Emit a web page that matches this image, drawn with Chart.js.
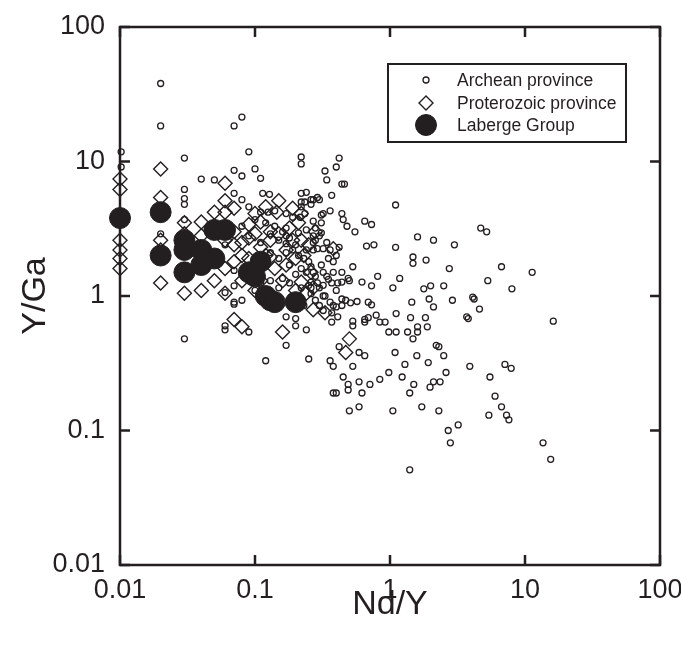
<!DOCTYPE html>
<html>
<head>
<meta charset="utf-8">
<script src="https://cdn.jsdelivr.net/npm/chart.js@4.4.1/dist/chart.umd.min.js"></script>
<style>
  html, body { margin: 0; padding: 0; background: #fff; }
  canvas { display: block; }
</style>
</head>
<body>
<canvas id="chart" width="681" height="645"></canvas>
<script>
// tick values on both log axes
const xTickValues = [0.01, 0.1, 1, 10, 100];
const yTickValues = [0.01, 0.1, 1, 10, 100];
const seriesNames = ["Archean province", "Proterozoic province", "Laberge Group"];

// [Nd/Y, Y/Ga]
const archeanPoints = [
  [0.0102,11.8],[0.0102,9.1],[0.02,38],[0.02,18.4],[0.02,2.9],
  [0.03,10.6],[0.03,6.2],[0.03,5.3],[0.03,4.8],[0.03,3.7],[0.03,0.48],
  [0.04,7.4],[0.05,7.3],[0.07,18.4],[0.08,21.4],[0.07,8.6],[0.08,7.8],[0.07,5.8],[0.08,5.2],
  [0.09,11.8],[0.09,4.6],[0.1,8.8],[0.11,7.5],[0.11,4.2],[0.114,5.8],[0.128,5.7],[0.125,4.2],[0.14,4.3],
  [0.17,4.1],[0.19,3.85],[0.216,3.85],[0.17,3.2],[0.17,2.8],[0.21,2.95],[0.17,2.45],
  [0.22,10.8],[0.22,9.6],[0.22,5.8],[0.22,5.0],[0.234,5.0],[0.22,4.6],[0.234,4.1],[0.24,5.9],
  [0.26,5.2],[0.26,4.8],[0.27,5.2],[0.29,5.4],[0.30,5.2],[0.31,4.0],[0.32,4.1],[0.36,4.3],
  [0.42,10.6],[0.40,9.1],[0.33,8.5],[0.34,7.3],[0.44,6.8],[0.46,6.8],[0.37,5.6],
  [0.44,4.1],[0.45,3.7],[0.48,3.3],[0.55,3.0],[0.65,3.6],[0.73,3.4],
  [1.1,4.75],[0.67,2.35],[0.76,2.4],[1.1,2.3],[0.31,3.5],[0.28,3.2],[0.31,2.95],[0.27,2.8],
  [0.27,2.5],[0.27,2.2],[0.29,2.25],[0.32,2.25],[0.38,1.8],[0.53,1.65],
  [1.6,2.75],[2.1,2.6],[3.0,2.4],[4.7,3.2],[5.2,3.0],
  [1.48,1.95],[1.48,1.75],[1.85,1.85],[2.75,1.6],[6.7,1.65],[11.3,1.5],
  [0.27,1.5],[0.32,1.5],[0.38,1.5],[0.44,1.5],[0.49,1.35],
  [0.26,1.27],[0.26,1.15],[0.29,1.25],[0.32,1.2],[0.35,1.33],[0.41,1.25],[0.44,1.27],[0.50,1.3],
  [0.62,1.27],[0.73,1.19],[0.81,1.4],[1.05,1.15],[1.18,1.35],
  [0.26,1.04],[0.28,0.93],[0.32,1.0],[0.30,0.85],
  [0.38,0.85],[0.44,0.85],[0.47,0.93],[0.51,0.89],[0.57,0.91],[0.69,0.9],[0.73,0.86],
  [0.37,0.75],[0.41,0.70],[0.37,0.64],[0.53,0.65],[0.53,0.60],
  [0.65,0.67],[0.65,0.64],[0.69,0.69],[0.79,0.72],[0.84,0.64],[0.92,0.64],[1.11,0.74],
  [0.98,0.54],[1.11,0.54],[1.35,0.54],[0.42,0.42],[0.59,0.38],[0.65,0.36],[0.36,0.33],[0.38,0.30],[0.53,0.30],
  [0.45,0.25],[0.49,0.22],[0.59,0.23],[0.84,0.24],[0.98,0.27],[1.23,0.25],[1.29,0.31],[1.09,0.38],
  [1.78,1.13],[2.0,1.19],[2.5,1.19],[5.3,1.3],[8.0,1.13],
  [1.45,0.9],[1.95,0.95],[2.1,0.83],[2.9,0.93],[4.1,0.98],[4.2,0.95],[4.6,0.8],[16.2,0.65],
  [1.42,0.69],[1.83,0.69],[1.6,0.59],[1.89,0.59],[1.6,0.54],[1.48,0.48],[3.7,0.7],[3.8,0.68],
  [2.2,0.43],[2.3,0.42],[2.5,0.36],[1.58,0.36],[1.92,0.32],[2.6,0.27],[3.9,0.30],[7.1,0.31],[7.9,0.29],[5.5,0.25],
  [0.49,0.20],[0.38,0.19],[0.40,0.19],[0.50,0.14],[0.59,0.15],[0.62,0.19],[0.71,0.22],
  [1.05,0.14],[1.50,0.22],[1.40,0.19],[1.72,0.15],[1.98,0.21],[2.1,0.23],[2.35,0.23],[2.3,0.14],
  [6.0,0.18],[5.4,0.13],[6.7,0.15],[7.3,0.13],[7.6,0.12],[2.7,0.10],[3.2,0.11],[2.8,0.081],[13.6,0.081],[15.5,0.061],[1.40,0.051],
  [0.06,0.6],[0.06,0.56],[0.07,1.19],[0.06,1.06],[0.07,0.9],[0.07,0.87],[0.08,0.93],[0.09,0.54],
  [0.12,0.33],[0.17,0.70],[0.17,0.43],[0.2,0.68],[0.2,0.6],[0.24,0.56],[0.25,0.34],
  [0.12,3.5],[0.14,3.3],[0.13,2.9],[0.15,2.6],[0.16,3.0],[0.18,2.7],[0.2,2.4],[0.19,2.2],[0.21,2.0],
  [0.23,1.9],[0.24,2.2],[0.25,1.8],[0.22,1.6],[0.18,1.7],[0.2,1.45],[0.24,1.5],[0.26,1.65],[0.28,1.4],
  [0.25,1.2],[0.22,1.15],[0.3,1.15],[0.23,0.85],[0.18,1.25],[0.16,1.35],[0.15,1.15],[0.13,1.3],
  [0.11,1.25],[0.1,1.1],[0.09,1.3],[0.08,1.45],[0.07,1.55],[0.06,2.4],[0.08,3.3],[0.1,3.7],[0.09,2.8],
  [0.11,2.5],[0.13,2.1],[0.15,1.9],[0.17,2.1],[0.28,2.6],[0.3,2.8],[0.27,3.6],[0.24,3.1],[0.34,2.5],
  [0.36,2.2],[0.35,1.9],[0.4,2.0],[0.42,2.3],[0.31,1.7],[0.34,1.4],[0.37,1.25],[0.4,1.1],[0.33,1.0],
  [0.36,0.9],[0.4,0.83],[0.32,0.78],[0.44,0.95]
];

const proterozoicPoints = [
  [0.01,7.4],[0.01,6.2],[0.01,2.6],[0.01,2.2],[0.01,1.9],[0.01,1.6],
  [0.02,8.8],[0.02,5.4],[0.02,2.6],[0.02,2.2],[0.02,1.25],
  [0.03,3.5],[0.03,1.05],[0.03,2.9],[0.04,3.55],[0.04,1.1],[0.04,2.8],[0.04,2.3],
  [0.05,4.2],[0.05,1.3],[0.05,3.3],[0.05,1.9],
  [0.06,6.9],[0.06,5.1],[0.06,4.2],[0.06,1.6],[0.06,2.6],[0.06,1.05],
  [0.07,1.8],[0.07,0.67],[0.07,2.4],[0.07,3.0],[0.07,4.5],
  [0.08,2.5],[0.08,1.3],[0.08,0.59],[0.08,2.0],
  [0.09,3.4],[0.09,1.9],[0.09,2.7],[0.09,1.5],
  [0.1,2.9],[0.1,4.1],[0.1,1.1],[0.11,3.55],[0.11,2.3],[0.11,1.3],
  [0.12,2.0],[0.12,4.6],[0.13,3.0],[0.13,1.95],[0.13,2.6],[0.14,1.6],
  [0.145,4.2],[0.15,5.1],[0.15,2.9],[0.16,1.3],[0.16,0.54],[0.17,1.7],[0.17,2.2],
  [0.18,3.2],[0.19,2.6],[0.19,4.5],[0.2,1.9],[0.2,1.1],[0.21,3.5],
  [0.22,2.6],[0.22,1.27],[0.22,4.1],[0.23,2.0],[0.24,1.05],[0.25,2.4],[0.26,1.5],
  [0.27,1.15],[0.28,3.0],[0.27,0.79],[0.33,0.75],[0.38,2.25],[0.5,0.48],[0.47,0.38]
];

const labergePoints = [
  [0.01,3.8],[0.02,4.2],[0.02,2.0],[0.03,2.6],[0.03,2.2],[0.03,1.5],
  [0.04,2.2],[0.04,1.7],[0.05,3.1],[0.06,3.1],[0.05,1.9],
  [0.09,1.5],[0.11,1.8],[0.1,1.4],[0.12,1.0],[0.13,0.93],[0.14,0.9],[0.2,0.9]
];

const ink = "#231f20";
const fontFamily = "'Liberation Sans', Arial, Helvetica, sans-serif";

function toXY(list) {
  return list.map(p => ({ x: p[0], y: p[1] }));
}

// frame, inward ticks, axis titles and the boxed legend
const decorPlugin = {
  id: "decor",
  afterDatasetsDraw(chart) {
    const ctx = chart.ctx;
    const a = chart.chartArea;
    const xs = chart.scales.x;
    const ys = chart.scales.y;
    ctx.save();
    ctx.strokeStyle = ink;
    ctx.lineWidth = 2.5;
    ctx.strokeRect(a.left, a.top, a.right - a.left, a.bottom - a.top);
    ctx.beginPath();
    xTickValues.forEach(v => {
      const px = xs.getPixelForValue(v);
      ctx.moveTo(px, a.bottom); ctx.lineTo(px, a.bottom - 10);
      ctx.moveTo(px, a.top); ctx.lineTo(px, a.top + 10);
    });
    yTickValues.forEach(v => {
      const py = ys.getPixelForValue(v);
      ctx.moveTo(a.left, py); ctx.lineTo(a.left + 10, py);
      ctx.moveTo(a.right, py); ctx.lineTo(a.right - 10, py);
    });
    ctx.stroke();

    // axis titles
    ctx.fillStyle = ink;
    ctx.font = "34px " + fontFamily;
    ctx.textAlign = "center";
    ctx.textBaseline = "middle";
    ctx.fillText("Nd/Y", (a.left + a.right) / 2, 605);
    ctx.save();
    ctx.translate(36, (a.top + a.bottom) / 2);
    ctx.rotate(-Math.PI / 2);
    ctx.fillText("Y/Ga", 0, 0);
    ctx.restore();

    // legend box
    ctx.lineWidth = 2;
    ctx.strokeRect(388, 64, 238, 78);
    const rows = [80, 103, 125];
    ctx.font = "17.5px " + fontFamily;
    ctx.textAlign = "left";
    chart.data.datasets.forEach((ds, i) => {
      ctx.lineWidth = ds.borderWidth;
      ctx.strokeStyle = ink;
      ctx.fillStyle = ds.backgroundColor;
      Chart.helpers.drawPoint(ctx, { pointStyle: ds.pointStyle, radius: ds.pointRadius, borderWidth: ds.borderWidth, rotation: 0 }, 426, rows[i]);
      ctx.fillStyle = ink;
      ctx.fillText(ds.label, 457, rows[i] + 1);
    });
    ctx.restore();
  }
};

new Chart(document.getElementById("chart"), {
  type: "scatter",
  data: {
    datasets: [
      { label: seriesNames[0], data: toXY(archeanPoints), pointStyle: "circle", pointRadius: 3, borderWidth: 1.3,
        borderColor: ink, backgroundColor: "rgba(255,255,255,0)", order: 3, clip: false },
      { label: seriesNames[1], data: toXY(proterozoicPoints), pointStyle: "rectRot", pointRadius: 7, borderWidth: 1.4,
        borderColor: ink, backgroundColor: "rgba(255,255,255,0)", order: 2, clip: false },
      { label: seriesNames[2], data: toXY(labergePoints), pointStyle: "circle", pointRadius: 10.5, borderWidth: 1,
        borderColor: ink, backgroundColor: ink, order: 1, clip: false }
    ]
  },
  options: {
    responsive: false,
    animation: false,
    events: [],
    layout: { padding: { left: 0, top: 27, right: 21, bottom: 0 } },
    plugins: { legend: { display: false }, tooltip: { enabled: false } },
    scales: {
      x: {
        type: "logarithmic", min: 0.01, max: 100,
        grid: { display: false, drawTicks: false },
        border: { display: false },
        afterBuildTicks: s => { s.ticks = xTickValues.map(v => ({ value: v })); },
        afterFit: s => { s.height = 80; s.paddingLeft = 0; s.paddingRight = 0; },
        ticks: { color: ink, font: { family: fontFamily, size: 27 }, padding: 9, maxRotation: 0,
          callback: v => String(v) }
      },
      y: {
        type: "logarithmic", min: 0.01, max: 100,
        grid: { display: false, drawTicks: false },
        border: { display: false },
        afterBuildTicks: s => { s.ticks = yTickValues.map(v => ({ value: v })); },
        afterFit: s => { s.width = 120; s.paddingTop = 0; s.paddingBottom = 0; },
        ticks: { color: ink, font: { family: fontFamily, size: 27 }, padding: 15,
          callback: v => String(v) }
      }
    }
  },
  plugins: [decorPlugin]
});
</script>
</body>
</html>
